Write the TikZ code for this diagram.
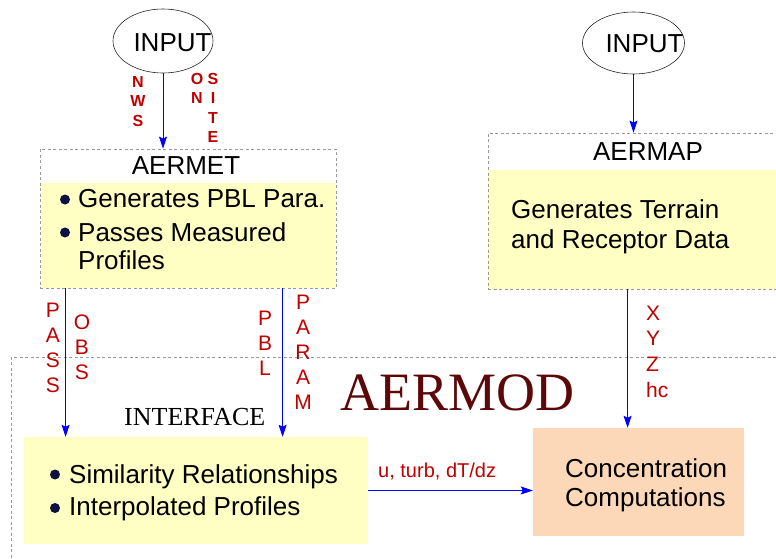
\documentclass[tikz,border=0pt]{standalone}
\usepackage{fontspec}
\setmainfont{Liberation Sans}
\newfontfamily\aerserif{Liberation Serif}
\usetikzlibrary{shapes.geometric,arrows.meta}
\definecolor{lblred}{HTML}{C00000}
\definecolor{modred}{HTML}{5C0808}
\definecolor{yelfill}{HTML}{FFFFC4}
\definecolor{peach}{HTML}{FDD8B8}
\definecolor{navy}{HTML}{101040}
\definecolor{dashgray}{HTML}{9A9A9A}
\begin{document}
\begin{tikzpicture}[x=1pt,y=-1pt,
  oval/.style={ellipse, draw=black!85, line width=0.6pt, inner sep=0pt},
  dbox/.style={draw=dashgray, dash pattern=on 3pt off 2.5pt, line width=0.8pt, inner sep=0pt},
  body/.style={inner sep=0pt, draw=none},
  txt/.style={inner sep=0pt, font=\fontsize{26}{30}\selectfont},
  stxt/.style={inner sep=0pt, font=\fontsize{26}{30}\aerserif},
  bul/.style={circle, fill=navy, inner sep=0pt, minimum size=10pt},
  lbls/.style={inner sep=0pt, text=lblred, align=center, font=\fontsize{16}{19.5}\bfseries},
  lblb/.style={inner sep=0pt, text=lblred, align=center, font=\fontsize{21}{25.2}\selectfont},
  arr/.style={draw=blue, line width=0.8pt, -{Stealth[length=12pt,width=8pt,inset=2pt]}}
]
\useasboundingbox (0,0) rectangle (776,559);
\clip (0,0) rectangle (776,559);
\fill[white] (0,0) rectangle (776,559);

% AERMOD outer dashed frame
\node[dbox, minimum width=789pt, minimum height=243pt] (aermodbox) at (405.5,478.5) {};

% AERMET
\node[body, fill=yelfill, minimum width=295pt, minimum height=105pt] (aermetbody) at (188,235.5) {};
\node[dbox, minimum width=296pt, minimum height=139pt] (aermet) at (188,218.5) {};
\node[txt] (aermett) at (186,166) {AERMET};
\node[bul] (b1) at (65,199.5) {};
\node[bul] (b2) at (65,232.5) {};
\node[txt, anchor=base west] (b1t) at (78,207) {Generates PBL Para.};
\node[txt, anchor=base west] (b2t) at (78,241) {Passes Measured};
\node[txt, anchor=base west] (b3t) at (78,269) {Profiles};

% AERMAP
\node[body, fill=yelfill, minimum width=312pt, minimum height=119pt] (aermapbody) at (644,229.5) {};
\node[dbox, minimum width=312pt, minimum height=156pt] (aermap) at (644,211) {};
\node[txt] (aermapt) at (648,152) {AERMAP};
\node[txt, anchor=base west] (m1t) at (511,218) {Generates Terrain};
\node[txt, anchor=base west] (m2t) at (511,248) {and Receptor Data};

% INPUT ellipses
\node[oval, minimum width=100pt, minimum height=64pt] (in1) at (163,41) {};
\node[txt] (in1t) at (172.5,42.5) {INPUT};
\node[oval, minimum width=102pt, minimum height=62pt] (in2) at (633.5,43) {};
\node[txt] (in2t) at (644.5,43.5) {INPUT};

% Interface box
\node[body, fill=yelfill, minimum width=344pt, minimum height=107pt] (intf) at (196,490.5) {};
\node[bul] (c1) at (55,474.5) {};
\node[bul] (c2) at (55,508) {};
\node[txt, anchor=base west] (c1t) at (69,483) {Similarity Relationships};
\node[txt, anchor=base west] (c2t) at (69,515) {Interpolated Profiles};

% Concentration box
\node[body, fill=peach, minimum width=211pt, minimum height=108pt] (conc) at (638.5,482) {};
\node[txt, anchor=base west] (k1t) at (565,477) {Concentration};
\node[txt, anchor=base west] (k2t) at (565,506) {Computations};

% Titles
\node[stxt, anchor=base west] (ift) at (124,425) {INTERFACE};
\node[inner sep=0pt, anchor=base west, text=modred, font=\fontsize{54}{60}\aerserif] (aermodt) at (340,410) {AERMOD};

% Arrows
\draw[arr] (in1.south) -- (in1.south |- aermet.north);
\draw[arr] (in2.south) -- (in2.south |- aermap.north);
\coordinate (pa) at ([xshift=26pt]aermet.south west);
\coordinate (pb) at ([xshift=243pt]aermet.south west);
\coordinate (pc) at ([xshift=140pt]aermap.south west);
\draw[arr] (pa) -- (pa |- intf.north);
\draw[arr] (pb) -- (pb |- intf.north);
\draw[arr] (pc) -- (pc |- conc.north);
\draw[arr] (intf.east) -- (intf.east -| conc.west);

% Labels
\node[lbls, anchor=north] (lnws) at (138,76) {N\\W\\S};
\node[lbls, anchor=north] (lon) at (197,73) {O\\N};
\node[lbls, anchor=north] (lsite) at (213,73) {S\\I\\T\\E};
\node[lblb, anchor=north] (lpass) at (53,302.5) {P\\A\\S\\S};
\node[lblb, anchor=north] (lobs) at (82,314.5) {O\\B\\S};
\node[lblb, anchor=north] (lpbl) at (265,310.5) {P\\B\\L};
\node[lblb, anchor=north] (lparam) at (303,294.5) {P\\A\\R\\A\\M};
\node[lblb, align=left, anchor=north west, font=\fontsize{21}{25.7}\selectfont] (lxyz) at (646,305.5) {X\\Y\\Z\\hc};
\node[inner sep=0pt, text=lblred, anchor=base west, font=\fontsize{20}{24}\selectfont] (lu) at (378,477) {u, turb, dT/dz};
\end{tikzpicture}
\end{document}
